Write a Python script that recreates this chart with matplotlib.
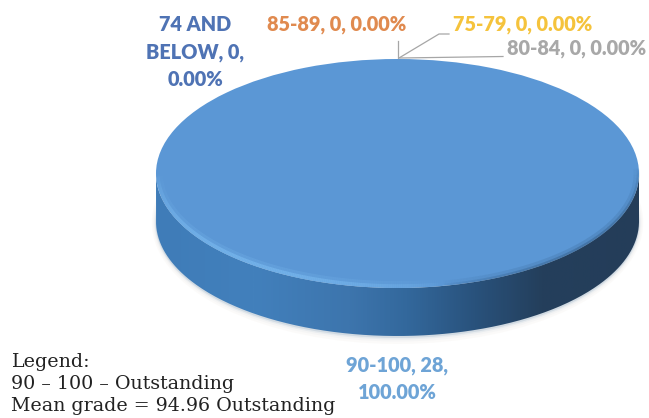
import numpy as np
import matplotlib
matplotlib.use("Agg")
import matplotlib.pyplot as plt
from matplotlib.path import Path
from matplotlib.patches import PathPatch, Ellipse
from matplotlib.collections import LineCollection
from matplotlib.colors import LinearSegmentedColormap, to_rgb
from matplotlib.transforms import Affine2D

categories = ["74 AND BELOW", "75-79", "80-84", "85-89", "90-100"]
counts = [0, 0, 0, 0, 28]
percents = ["0.00%", "0.00%", "0.00%", "0.00%", "100.00%"]
slice_colors = ["#4472C4", "#FFC000", "#A5A5A5", "#ED7D31", "#5B97D5"]
legend_lines = ["Legend:", "90 \u2013 100 \u2013 Outstanding", "Mean grade = 94.96 Outstanding"]

W, H = 649, 418
fig = plt.figure(figsize=(W / 100, H / 100), dpi=100, facecolor="white")
ax = fig.add_axes([0, 0, 1, 1])

# Disc geometry in pixels: the axes map one unit to one pixel, y pointing down
cx, cy, rx, ry, depth = 397.5, 173.5, 241.5, 114.5, 48


def fix_view():
    ax.set_aspect("auto")
    ax.set_xlim(0, W)
    ax.set_ylim(H, 0)
    ax.axis("off")


def rim_band(t_start, t_end, inset, width, color, peak, zorder=3.5):
    """Stroke an arc just inside the top face, fading out at both ends."""
    arc = np.linspace(t_start, t_end, 220)
    fade = np.sin(np.linspace(0, np.pi, arc.size - 1)) ** 0.6
    px = cx + (rx - inset) * np.cos(arc)
    py = cy + (ry - inset) * np.sin(arc)
    segs = np.stack([np.c_[px[:-1], py[:-1]], np.c_[px[1:], py[1:]]], axis=1)
    colors = [(*to_rgb(color), peak * f) for f in fade]
    ax.add_collection(LineCollection(segs, colors=colors, linewidths=width, zorder=zorder))


fix_view()
t = np.linspace(0, np.pi, 300)
rim_x = cx + rx * np.cos(t)
rim_y = cy + ry * np.sin(t)

# Soft shadow beneath the disc
for grow, alpha, tone in [(7, 0.06, "#c9b9a0"), (4.5, 0.10, "#c4cdd6"), (2.5, 0.16, "#a9bdd0"), (1, 0.25, "#8fa6bd")]:
    ax.add_patch(Ellipse((cx, cy + depth + 1), 2 * (rx + grow * 0.6), 2 * (ry + grow), fc=tone,
                         ec="none", alpha=alpha, zorder=1))

# Side wall with a left-to-right shading
side_x = np.r_[rim_x, rim_x[::-1]]
side_y = np.r_[rim_y, rim_y[::-1] + depth]
side = PathPatch(Path(np.c_[side_x, side_y]), fc="none", ec="none", transform=ax.transData)
ax.add_patch(side)
side_cmap = LinearSegmentedColormap.from_list(
    "side",
    [(0.0, "#3f7cb8"), (0.2, "#4280bc"), (0.4, "#3d75ad"),
     (0.52, "#33689c"), (0.66, "#29527c"), (0.8, "#243f5c"), (1.0, "#243d59")],
)
img = ax.imshow(np.linspace(0, 1, 512)[None, :], cmap=side_cmap, aspect="auto",
                extent=[cx - rx, cx + rx, cy + ry + depth + 2, cy - 2], zorder=2)
img.set_clip_path(side)

# Top face: the pie is flattened by stretching unit data into the ellipse
wedges, _ = ax.pie(counts, colors=slice_colors, startangle=90, counterclock=False,
                   radius=1, center=(0, 0), normalize=True,
                   wedgeprops=dict(linewidth=0), frame=True)
fix_view()
to_pixels = Affine2D().scale(rx, ry).translate(cx, cy) + ax.transData
for wedge in wedges:
    wedge.set_transform(to_pixels)
    wedge.set_zorder(3)

# Light bevel along the front-left rim
rim_band(np.pi * 0.44, np.pi * 1.0, 3.5, 5.0, "#7dbdf2", 0.22)
rim_band(np.pi * 0.44, np.pi * 1.0, 2.0, 2.6, "#7dbdf2", 0.6)

# Dark soft edge where the top face meets the shaded wall on the right
rim_band(-0.05, np.pi * 0.44, 2.5, 4.0, "#2a4f75", 0.16)
rim_band(-0.05, np.pi * 0.44, 0.8, 2.0, "#2a4f75", 0.35)

# Leader lines from the zero-size slices at the top of the disc
leader = "#a6a6a6"
ax.plot([398, 398], [58, 41], color=leader, lw=0.9, zorder=4)
ax.plot([399, 439, 449], [58, 34, 34], color=leader, lw=0.9, zorder=4)
ax.plot([400, 503], [58, 56.5], color=leader, lw=0.9, zorder=4)

label_font = dict(family="Lato", fontsize=14.3, fontweight="heavy", ha="center", va="center",
                  linespacing=1.5, zorder=5)


def slice_label(i):
    return f"{categories[i]}, {counts[i]}, {percents[i]}"


ax.text(195, 52, "74 AND\nBELOW, 0,\n0.00%", color="#4f73b4", **label_font)
ax.text(337, 25, slice_label(3), color="#e08a4f", **label_font)
ax.text(523, 24, slice_label(1), color="#f5c33c", **label_font)
ax.text(577, 49, slice_label(2), color="#a8a8a8", **label_font)
ax.text(397, 379, "90-100, 28,\n100.00%", color="#6ea4d6", **label_font)

ax.text(11, 384, "\n".join(legend_lines), family="DejaVu Serif", fontsize=13.7, color="#222222",
        ha="left", va="center", linespacing=1.28, zorder=5)

fig.savefig("out.png", dpi=100)
